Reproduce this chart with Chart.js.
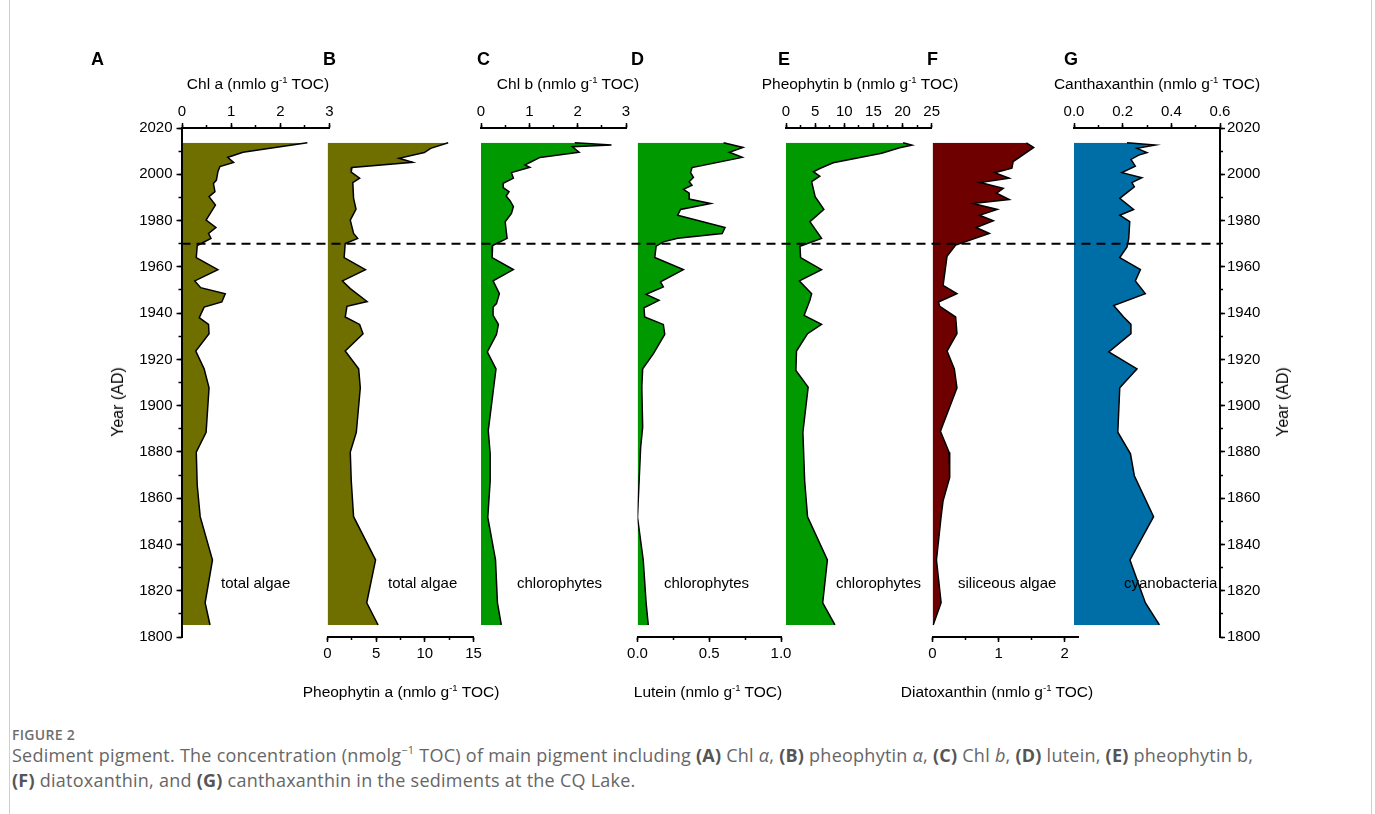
<!DOCTYPE html>
<html>
<head>
<meta charset="utf-8">
<script src="https://cdn.jsdelivr.net/npm/chart.js@4.4.0/dist/chart.umd.min.js"></script>
<style>
html, body { margin: 0; padding: 0; background: #fff; }
#page { position: relative; width: 1375px; height: 814px; overflow: hidden; font-family: "Liberation Sans", Arial, sans-serif; color: #000; }
#page canvas { position: absolute; left: 0; top: 0; }
.txt { position: absolute; white-space: nowrap; line-height: 1; }
.txt sup { font-size: 0.62em; vertical-align: 0; position: relative; top: -0.62em; }
.edge { position: absolute; top: 0; width: 1px; height: 814px; background: #cfcfcf; }
#figlabel { position: absolute; left: 12px; top: 725px; font: 600 14px "Open Sans", sans-serif; color: #6e6e6e; letter-spacing: 0.3px; }
#caption { position: absolute; left: 12px; top: 744px; font: 18px/23px "Open Sans", sans-serif; color: #666; white-space: nowrap; letter-spacing: 0.25px; }
#caption b { color: #555; }
</style>
</head>
<body>
<div id="page">
  <div class="edge" style="left:9px"></div>
  <div class="edge" style="left:1371px"></div>
  <div id="figlabel">FIGURE 2</div>
  <div id="caption">Sediment pigment. The concentration (nmolg<sup style="font-size:11px;vertical-align:0;position:relative;top:-8px">−1</sup> TOC) of main pigment including <b>(A)</b> Chl <i>α</i>, <b>(B)</b> pheophytin <i>α</i>, <b>(C)</b> Chl <i>b</i>, <b>(D)</b> lutein, <b>(E)</b> pheophytin b,<br><b>(F)</b> diatoxanthin, and <b>(G)</b> canthaxanthin in the sediments at the CQ Lake.</div>
</div>
<script>
// ---- data (year AD, concentration nmol g-1 TOC) ----
const chlA_years = [2013.6, 2009.5, 2008, 2007.3, 2005.1, 2003.3, 2001.1, 1997.5, 1996, 1992.5, 1990.3, 1986.7, 1980.2, 1977, 1974.4, 1972.3, 1969.2, 1964, 1958.8, 1953.9, 1951, 1948.4, 1944.8, 1942.6, 1938, 1935.1, 1931.1, 1923.6, 1915.9, 1907.7, 1888.5, 1879.9, 1865.5, 1852, 1833.3, 1814.8, 1805.2];
const chlA_vals  = [2.55, 1.24, 1.03, 0.93, 1.05, 0.77, 0.73, 0.70, 0.64, 0.67, 0.55, 0.68, 0.49, 0.69, 0.54, 0.59, 0.31, 0.29, 0.73, 0.26, 0.38, 0.88, 0.81, 0.45, 0.35, 0.54, 0.55, 0.28, 0.45, 0.55, 0.49, 0.29, 0.31, 0.37, 0.62, 0.47, 0.57];

const pheoA_years = [2013.6, 2011.2, 2009.4, 2006.9, 2005.2, 2002.9, 2000.9, 1998.3, 1996.4, 1989.6, 1984.9, 1980.2, 1974.4, 1972.3, 1970.1, 1964, 1958.8, 1953.9, 1950.6, 1945, 1942.9, 1938.3, 1935.1, 1931.1, 1923.6, 1915.9, 1907.7, 1888.5, 1879.9, 1867.5, 1852, 1833.3, 1814.8, 1805.2];
const pheoA_vals  = [12.4, 10.6, 9.95, 7.35, 8.74, 2.51, 2.44, 3.3, 2.6, 2.68, 2.93, 2.34, 2.68, 3.1, 1.82, 1.71, 3.9, 1.54, 2.34, 4.07, 2.0, 1.82, 3.3, 3.65, 1.82, 3.2, 3.37, 2.96, 2.34, 2.44, 2.68, 4.94, 4.03, 5.2];

const chlB_years = [2013.6, 2012.6, 2011.9, 2009.5, 2007.3, 2005, 2004, 2003, 2000.7, 1998.3, 1996.1, 1994.2, 1992.5, 1990.6, 1988.6, 1986, 1983.1, 1979.5, 1975.8, 1972.3, 1969.2, 1964, 1958.8, 1953.9, 1948.4, 1944.1, 1942.6, 1939, 1935.1, 1930.8, 1923.2, 1915.9, 1889.2, 1879.2, 1867.5, 1851.7, 1833.3, 1814.8, 1805.2];
const chlB_vals  = [1.94, 2.70, 1.89, 2.03, 1.22, 1.0, 0.91, 1.01, 0.63, 0.67, 0.46, 0.46, 0.58, 0.52, 0.60, 0.67, 0.63, 0.50, 0.52, 0.54, 0.24, 0.23, 0.67, 0.25, 0.38, 0.32, 0.25, 0.25, 0.36, 0.32, 0.13, 0.31, 0.15, 0.19, 0.19, 0.14, 0.30, 0.34, 0.42];

const lutein_years = [2013.6, 2011.6, 2009.5, 2007.3, 2002.9, 2000.7, 1998.7, 1996.8, 1995.3, 1993.5, 1991.8, 1989.3, 1987.4, 1984.8, 1982.3, 1977, 1974.4, 1972.3, 1970.8, 1968.9, 1964, 1958.8, 1953.5, 1951.3, 1948.1, 1945.5, 1942.3, 1938.3, 1935.1, 1930.8, 1922.4, 1915.9, 1908, 1890.7, 1882, 1858.9, 1851.7, 1833.3, 1814.8, 1805.2];
const lutein_vals  = [0.60, 0.735, 0.64, 0.73, 0.38, 0.37, 0.39, 0.36, 0.38, 0.32, 0.36, 0.36, 0.51, 0.30, 0.28, 0.61, 0.59, 0.28, 0.18, 0.13, 0.12, 0.32, 0.16, 0.18, 0.06, 0.15, 0.045, 0.05, 0.18, 0.19, 0.11, 0.036, 0.03, 0.036, 0.022, 0.005, 0.0, 0.04, 0.06, 0.075];

const pheoB_years = [2013.6, 2012.6, 2011.5, 2009.1, 2005, 2002.5, 2001.1, 1999.2, 1996.8, 1990.3, 1984.8, 1979.5, 1972.3, 1968.9, 1964, 1958.8, 1953.9, 1948.4, 1945.5, 1939, 1935.1, 1931.1, 1923.6, 1915.2, 1908, 1888.5, 1867.5, 1852, 1833.3, 1814.8, 1805.2];
const pheoB_vals  = [20.1, 21.6, 19.5, 16.4, 8.1, 5.8, 4.7, 5.8, 4.4, 5.0, 6.5, 4.1, 6.1, 2.4, 2.5, 6.1, 2.3, 4.4, 4.1, 3.1, 6.1, 3.7, 1.8, 1.7, 3.8, 2.9, 3.2, 3.7, 7.1, 6.3, 8.4];

const diatox_years = [2013.6, 2011.6, 2005.5, 2002.6, 2000.7, 1998.3, 1996.4, 1993.9, 1991.8, 1989.1, 1987.4, 1984.8, 1982.3, 1979.9, 1977, 1974.4, 1969.4, 1964.6, 1952, 1948.4, 1944.8, 1942.9, 1938.3, 1931.1, 1923.6, 1915.9, 1907.7, 1888.9, 1879.9, 1869, 1858.9, 1852, 1833.3, 1814.8, 1805.2];
const diatox_vals  = [1.42, 1.53, 1.22, 1.20, 0.94, 1.16, 0.72, 1.07, 0.97, 1.16, 0.61, 0.98, 0.71, 0.92, 0.66, 0.86, 0.35, 0.22, 0.16, 0.37, 0.09, 0.11, 0.35, 0.37, 0.22, 0.33, 0.37, 0.12, 0.25, 0.26, 0.16, 0.13, 0.06, 0.13, 0.01];

const cantha_years = [2013.6, 2012.6, 2011.2, 2009.4, 2008.3, 2006.4, 2003.5, 2000.7, 1998.5, 1996.4, 1994.6, 1989.6, 1984.8, 1982.3, 1979.5, 1972.3, 1968.6, 1964, 1958.8, 1953.9, 1948.4, 1943.3, 1938.3, 1935.1, 1931.1, 1923.2, 1915.9, 1907.7, 1888.5, 1879.2, 1869.7, 1852, 1833.3, 1814.8, 1805.2];
const cantha_vals  = [0.218, 0.334, 0.259, 0.30, 0.266, 0.234, 0.252, 0.197, 0.279, 0.238, 0.248, 0.188, 0.245, 0.188, 0.229, 0.225, 0.218, 0.188, 0.273, 0.252, 0.293, 0.163, 0.204, 0.234, 0.234, 0.143, 0.259, 0.188, 0.18, 0.232, 0.248, 0.327, 0.23, 0.293, 0.351];

const yearMin = 1800, yearMax = 2020;
const boundaryYear = 1970;

// ---- layout ----
const W = 1375, H = 814;
const TOP = 128, BOTTOM = 637;
const AXIS_LEFT = 181.5, AXIS_RIGHT = 1220;
const XAX = 40, YAX = 70;            // room kept for tick labels
const BLACK = '#000';
const FONT = '"Liberation Sans", Arial, sans-serif';
const tickFont = { family: FONT, size: 15 };

const panels = [
  { key: 'A', years: chlA_years,   vals: chlA_vals,   left: 182,   right: 329.5, pos: 'top',    max: 3,   step: 1,   minor: 0.5,  color: '#6f6f00', title: 'Chl a (nmlo g<sup>-1</sup> TOC)', titleX: 258, note: 'total algae', noteX: 221 },
  { key: 'B', years: pheoA_years,  vals: pheoA_vals,  left: 327.5, right: 473.5, pos: 'bottom', max: 15,  step: 5,   minor: 2.5,  color: '#6f6f00', title: 'Pheophytin a (nmlo g<sup>-1</sup> TOC)', titleX: 401, note: 'total algae', noteX: 388 },
  { key: 'C', years: chlB_years,   vals: chlB_vals,   left: 481,   right: 626,   pos: 'top',    max: 3,   step: 1,   minor: 0.5,  color: '#009900', title: 'Chl b (nmlo g<sup>-1</sup> TOC)', titleX: 568, note: 'chlorophytes', noteX: 517 },
  { key: 'D', years: lutein_years, vals: lutein_vals, left: 637.5, right: 781,   pos: 'bottom', max: 1,   step: 0.5, minor: 0.25, color: '#009900', title: 'Lutein (nmlo g<sup>-1</sup> TOC)', titleX: 708, note: 'chlorophytes', noteX: 664, decimals: 1 },
  { key: 'E', years: pheoB_years,  vals: pheoB_vals,  left: 786,   right: 931.7, pos: 'top',    max: 25,  step: 5,   minor: 2.5,  color: '#009900', title: 'Pheophytin b (nmlo g<sup>-1</sup> TOC)', titleX: 860, note: 'chlorophytes', noteX: 836 },
  { key: 'F', years: diatox_years, vals: diatox_vals, left: 932.5, right: 1078,  pos: 'bottom', max: 2.2, step: 1,   minor: 0.5,  color: '#6e0000', title: 'Diatoxanthin (nmlo g<sup>-1</sup> TOC)', titleX: 997, note: 'siliceous algae', noteX: 958 },
  { key: 'G', years: cantha_years, vals: cantha_vals, left: 1074,  right: 1220,  pos: 'top',    max: 0.6, step: 0.2, minor: 0.1,  color: '#006ea6', title: 'Canthaxanthin (nmlo g<sup>-1</sup> TOC)', titleX: 1157, note: 'cyanobacteria', noteX: 1124, decimals: 1 }
];
const letterX = { A: 91, B: 323, C: 477, D: 631, E: 778, F: 927, G: 1064 };

const page = document.getElementById('page');

function makeCanvas(id) {
  const c = document.createElement('canvas');
  c.id = id;
  c.width = W; c.height = H;
  c.style.width = W + 'px'; c.style.height = H + 'px';
  page.appendChild(c);
  return c;
}

// text placed by its baseline (line-height 1, Liberation Sans ascent ~0.8465em)
function addText(html, x, base, size, opts) {
  opts = opts || {};
  const d = document.createElement('div');
  d.className = 'txt';
  d.innerHTML = html;
  d.style.fontSize = size + 'px';
  if (opts.bold) d.style.fontWeight = 'bold';
  d.style.left = x + 'px';
  d.style.top = (base - 0.8465 * size) + 'px';
  if (opts.center) d.style.transform = 'translateX(-50%)';
  page.appendChild(d);
  return d;
}

const fixH = h => s => { s.height = h; };
const fixW = w => s => { s.width = w; };

function drawPanel(p) {
  const pts = p.years.map((yr, i) => ({ x: p.vals[i], y: yr }));
  const fmt = p.decimals ? (v => Number(v).toFixed(p.decimals)) : (v => String(v));
  const isTop = p.pos === 'top';
  new Chart(makeCanvas('panel' + p.key), {
    type: 'line',
    data: {
      datasets: [{
        data: pts,
        xAxisID: 'x', yAxisID: 'y',
        fill: 'origin',
        backgroundColor: p.color,
        borderColor: BLACK,
        borderWidth: 1.5,
        pointRadius: 0,
        tension: 0
      }]
    },
    options: {
      indexAxis: 'y',
      responsive: false,
      animation: false,
      events: [],
      layout: { padding: {
        left: p.left, right: W - p.right,
        top: isTop ? TOP - XAX : TOP,
        bottom: isTop ? H - BOTTOM : H - BOTTOM - XAX
      } },
      plugins: { legend: { display: false }, tooltip: { enabled: false } },
      scales: {
        x: {
          type: 'linear', position: p.pos, weight: 1, min: 0, max: p.max, afterFit: fixH(XAX),
          ticks: { stepSize: p.step, autoSkip: false, includeBounds: false, maxRotation: 0, padding: isTop ? 2 : 3, color: BLACK, font: tickFont, callback: fmt },
          grid: { drawOnChartArea: false, tickLength: 5, tickWidth: 1.5, tickColor: BLACK },
          border: { color: BLACK, width: 2 }
        },
        xm: {
          axis: 'x', type: 'linear', position: p.pos, weight: 0, min: 0, max: p.max, afterFit: fixH(0),
          ticks: { stepSize: p.minor, autoSkip: false, includeBounds: false, display: false },
          grid: { drawOnChartArea: false, tickLength: 3, tickWidth: 1.5, tickColor: BLACK },
          border: { display: false }
        },
        y: { type: 'linear', min: yearMin, max: yearMax, display: false }
      }
    }
  });

  addText(p.key, letterX[p.key], 65, 18, { bold: true });
  addText(p.title, p.titleX, isTop ? 89 : 697, 15.5, { center: true });
  addText(p.note, p.noteX, 588, 15);
}

panels.forEach(drawPanel);

// frame: year axes on both sides and the dashed 1970 line
function yearAxis(pos, major) {
  return {
    axis: 'y', type: 'linear', position: pos, weight: major ? 1 : 0, min: yearMin, max: yearMax,
    afterFit: fixW(major ? YAX : 0),
    ticks: major
      ? { stepSize: 20, autoSkip: false, padding: pos === 'left' ? 4 : 2, color: BLACK, font: tickFont, callback: v => String(v) }
      : { stepSize: 10, autoSkip: false, display: false },
    grid: { drawOnChartArea: false, tickLength: major ? 5 : 3, tickWidth: 1.5, tickColor: BLACK },
    border: major ? { color: BLACK, width: 2 } : { display: false }
  };
}

new Chart(makeCanvas('frame'), {
  type: 'line',
  data: {
    datasets: [{
      data: [{ x: 0, y: boundaryYear }, { x: 1, y: boundaryYear }],
      xAxisID: 'x', yAxisID: 'y',
      borderColor: BLACK, borderWidth: 2, borderDash: [9, 6],
      pointRadius: 0, fill: false
    }]
  },
  options: {
    responsive: false,
    animation: false,
    events: [],
    layout: { padding: { left: AXIS_LEFT - YAX, right: W - AXIS_RIGHT - YAX, top: TOP, bottom: H - BOTTOM } },
    plugins: { legend: { display: false }, tooltip: { enabled: false } },
    scales: {
      x: { type: 'linear', min: 0, max: 1, display: false },
      y: yearAxis('left', true),
      ym: yearAxis('left', false),
      y2: yearAxis('right', true),
      y2m: yearAxis('right', false)
    }
  }
});

// rotated year-axis titles
[118, 1283].forEach(cx => {
  const d = document.createElement('div');
  d.className = 'txt';
  d.textContent = 'Year (AD)';
  d.style.fontSize = '16px';
  d.style.left = cx + 'px';
  d.style.top = '402px';
  d.style.transform = 'translate(-50%, -50%) rotate(-90deg)';
  page.appendChild(d);
});
</script>
</body>
</html>
